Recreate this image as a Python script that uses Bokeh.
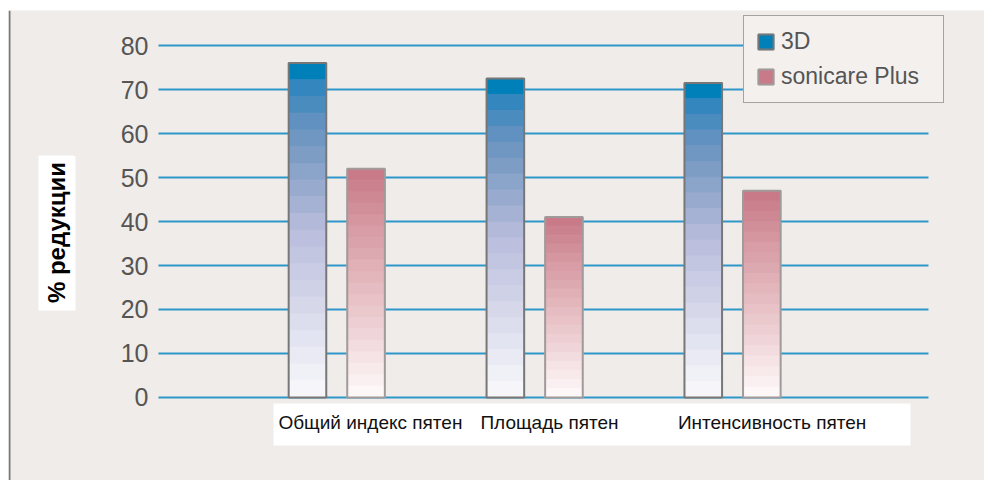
import math
from bokeh.plotting import figure
from bokeh.models import (ColumnDataSource, Range1d, FixedTicker, Legend,
                          LegendItem, BoxAnnotation, Label)
from bokeh.embed import file_html
from bokeh.resources import INLINE

# ---------------- data ----------------
categories = ["Общий индекс пятен", "Площадь пятен", "Интенсивность пятен"]
series_names = ["3D", "sonicare Plus"]
values_3d = [76, 72.5, 71.5]
values_sonicare = [52, 41, 47]
y_ticks = [0, 10, 20, 30, 40, 50, 60, 70, 80]
y_axis_label = "% редукции"

# ---------------- style / layout ----------------
BG = "#f0ece9"
N_BANDS = 20
BAR_W = 0.19
DODGE = 0.148
FONT = "Liberation Sans"
LABEL_SHIFT = [0.17, 0.075, 0.20]     # category label placement relative to group centre
PLOT_X0, PLOT_X1 = -0.4007, 3.490     # horizontal extent of the plotting area (grid lines)

grad_3d = [(0.0, (246, 246, 250)), (0.5, (185, 189, 220)), (0.75, (122, 155, 196)),
           (0.85, (95, 144, 192)), (0.95, (50, 134, 190)), (1.0, (0, 128, 184))]
grad_son = [(0.0, (253, 247, 247)), (0.25, (240, 215, 218)), (0.5, (228, 185, 190)),
            (0.75, (215, 155, 165)), (1.0, (200, 122, 136))]


def band_colors(anchors, n):
    out = []
    for k in range(n):
        t = k / (n - 1)
        for (t0, c0), (t1, c1) in zip(anchors[:-1], anchors[1:]):
            if t0 <= t <= t1:
                f = 0 if t1 == t0 else (t - t0) / (t1 - t0)
                c = tuple(int(round(a + (b - a) * f)) for a, b in zip(c0, c1))
                out.append("#%02x%02x%02x" % c)
                break
    return out


def band_source(values, dx, colors):
    d = dict(x=[], bottom=[], top=[], color=[])
    for k in reversed(range(N_BANDS)):          # top band rows first
        for i, v in enumerate(values):
            d["x"].append(i + 0.5 + dx)
            d["bottom"].append(v * k / N_BANDS)
            d["top"].append(v * (k + 1) / N_BANDS)
            d["color"].append(colors[k])
    return ColumnDataSource(d)


def outline_source(values, dx):
    return ColumnDataSource(dict(x=[i + 0.5 + dx for i in range(len(values))],
                                 top=list(values)))


p = figure(width=976, height=470, title=None,
           x_range=Range1d(-1.1587, 3.7731), y_range=Range1d(-18.864, 87.955),
           output_backend="svg", toolbar_location=None,
           min_border_left=0, min_border_right=0,
           min_border_top=0, min_border_bottom=0)
p.margin = (10, 0, 0, 8)
p.background_fill_color = BG
p.border_fill_color = BG
p.outline_line_color = None

# grid lines limited to the plotting area
p.xgrid.visible = False
p.ygrid.visible = False
p.segment(x0=[PLOT_X0] * len(y_ticks), x1=[PLOT_X1] * len(y_ticks),
          y0=y_ticks, y1=y_ticks, line_color="#2e96c9", line_width=2,
          level="underlay")

# y axis (drawn at the left edge of the plotting area)
p.yaxis.fixed_location = PLOT_X0
p.yaxis.ticker = FixedTicker(ticks=y_ticks)
p.yaxis.axis_line_color = None
p.yaxis.major_tick_line_color = None
p.yaxis.minor_tick_line_color = None
p.yaxis.major_label_standoff = 4
p.yaxis.major_label_text_font = FONT
p.yaxis.major_label_text_font_size = "25px"
p.yaxis.major_label_text_color = "#555555"

# x axis (drawn at y = 0)
label_ticks = [i + 0.5 + s for i, s in enumerate(LABEL_SHIFT)]
p.xaxis.fixed_location = 0
p.xaxis.ticker = FixedTicker(ticks=label_ticks)
p.xaxis.major_label_overrides = {t: c for t, c in zip(label_ticks, categories)}
p.xaxis.axis_line_color = None
p.xaxis.major_tick_line_color = None
p.xaxis.minor_tick_line_color = None
p.xaxis.major_label_standoff = 9
p.xaxis.major_label_text_font = FONT
p.xaxis.major_label_text_font_size = "19px"
p.xaxis.major_label_text_color = "#111111"

# decorative white boxes and the left rule
p.add_layout(BoxAnnotation(left=0.1804, right=3.399, top=-1.364, bottom=-10.909,
                           fill_color="white", fill_alpha=1, line_color=None,
                           level="underlay"))
p.add_layout(BoxAnnotation(left=-1.0071, right=-0.8201, top=55.0, bottom=19.77,
                           fill_color="white", fill_alpha=1, line_color=None,
                           level="underlay"))
p.add_layout(BoxAnnotation(left=-1.1587, right=-1.1486,
                           fill_color="#7a7a7a", fill_alpha=1, line_color=None,
                           level="underlay"))
p.segment(x0=[-0.8251], x1=[-0.8251], y0=[55.0], y1=[21.0],
          line_color="#b0aaa6", line_width=1, line_dash="2 2", level="underlay")
p.add_layout(Label(x=-0.9166, y=37.5, text=y_axis_label, angle=math.pi / 2,
                   text_align="center", text_baseline="middle",
                   text_font=FONT, text_font_style="bold",
                   text_font_size="24px", text_color="#000000"))

# bars
src3 = band_source(values_3d, -DODGE, band_colors(grad_3d, N_BANDS))
srcs = band_source(values_sonicare, DODGE, band_colors(grad_son, N_BANDS))
r3 = p.vbar(x="x", bottom="bottom", top="top", width=BAR_W, source=src3,
            fill_color="color", line_color="color", line_width=1)
rs = p.vbar(x="x", bottom="bottom", top="top", width=BAR_W, source=srcs,
            fill_color="color", line_color="color", line_width=1)
o3 = p.vbar(x="x", top="top", bottom=0, width=BAR_W, source=outline_source(values_3d, -DODGE),
            fill_color=None, line_color="#777777", line_width=2)
os_ = p.vbar(x="x", top="top", bottom=0, width=BAR_W, source=outline_source(values_sonicare, DODGE),
             fill_color=None, line_color="#a09a9a", line_width=2)

legend = Legend(items=[LegendItem(label=series_names[0], renderers=[r3, o3], index=0),
                       LegendItem(label=series_names[1], renderers=[rs, os_], index=0)],
                location=(735, 377))
legend.border_line_color = "#555555"
legend.border_line_width = 1.5
legend.background_fill_color = "#f3f0ee"
legend.background_fill_alpha = 1
legend.label_text_font = FONT
legend.label_text_font_size = "23px"
legend.label_text_color = "#555555"
legend.glyph_width = 19
legend.glyph_height = 19
legend.label_standoff = 6
legend.label_width = 150
legend.padding = 12
legend.spacing = 8
legend.margin = 0
p.add_layout(legend)

open("out.html", "w").write(file_html(p, INLINE))
